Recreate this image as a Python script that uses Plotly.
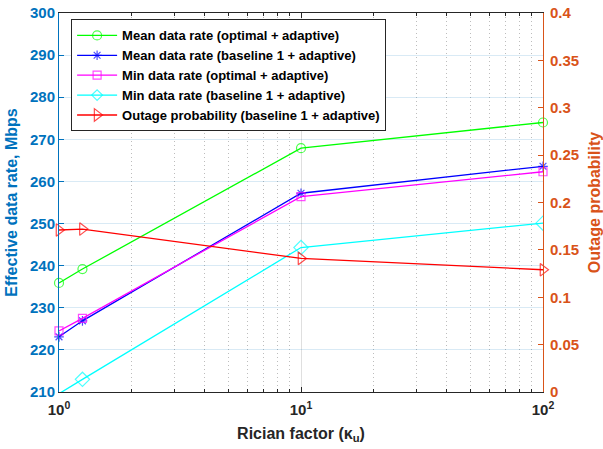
import plotly.graph_objects as go

kappa = [1, 1.25, 10, 100]
mean_opt = [235.9, 239.2, 267.9, 274.0]
mean_base = [223.1, 226.9, 257.2, 263.6]
min_opt = [224.5, 227.5, 256.4, 262.3]
min_base = [209.6, 213.0, 244.3, 250.1]
outage_base = [0.171, 0.172, 0.141, 0.129]

names = [
    "Mean data rate (optimal + adaptive)",
    "Mean data rate (baseline 1 + adaptive)",
    "Min data rate (optimal + adaptive)",
    "Min data rate (baseline 1 + adaptive)",
    "Outage probability (baseline 1 + adaptive)",
]
colors = ["#00FF00", "#0000FF", "#FF00FF", "#00FFFF", "#FF0000"]
symbols = ["circle-open", "asterisk-open", "square-open", "diamond-open", "triangle-right-open"]
sizes = [9, 8, 8, 11, 11]
series = [mean_opt, mean_base, min_opt, min_base, outage_base]

LEFT = "#0072BD"
RIGHT = "#D95319"
FONT = "Liberation Sans, Arial, Helvetica, sans-serif"
Y_RANGE = [210, 300]
Y2_RANGE = [0, 0.4]

fig = go.Figure()
for i, (nm, c, s, sz, ys) in enumerate(zip(names, colors, symbols, sizes, series)):
    rng = Y2_RANGE if i == 4 else Y_RANGE
    inside = [rng[0] <= v <= rng[1] for v in ys]
    # MATLAB hides markers whose centre lies outside the axes
    msz = [sz if ok else 0 for ok in inside]
    fig.add_trace(go.Scatter(
        x=kappa, y=ys, name=nm, mode="lines+markers",
        line=dict(color=c, width=1.3),
        marker=dict(symbol=s, size=msz, color=c, line=dict(color=c, width=1.2)),
        cliponaxis=not all(inside) and True or False,
        yaxis="y2" if i == 4 else "y",
    ))

minor_vals = [2, 3, 4, 5, 6, 7, 8, 9, 20, 30, 40, 50, 60, 70, 80, 90]

fig.update_layout(
    template="none",
    width=603, height=449,
    margin=dict(l=59, r=60, t=13, b=57, autoexpand=False),
    plot_bgcolor="white", paper_bgcolor="white",
    font=dict(family=FONT, size=15, color="#262626", weight="bold"),
    showlegend=True,
    legend=dict(
        x=0.025, y=0.983, xanchor="left", yanchor="top",
        bgcolor="white", bordercolor="#262626", borderwidth=1,
        font=dict(family=FONT, size=13, color="black", weight="bold"),
        tracegroupgap=0, itemwidth=40,
    ),
    xaxis=dict(
        type="log", range=[0, 2], automargin=False,
        tickvals=[1, 10, 100], ticktext=["10<sup>0</sup>", "10<sup>1</sup>", "10<sup>2</sup>"],
        ticks="inside", ticklen=5, tickcolor="#262626", ticklabelstandoff=4,
        showline=True, linecolor="#262626", linewidth=1, mirror="ticks",
        showgrid=True, gridcolor="rgba(38,38,38,0.15)", gridwidth=1,
        zeroline=False,
        tickfont=dict(size=15, color="#262626"),
        title=dict(text="Rician factor (κ<sub>u</sub>)", font=dict(size=16, color="#262626"), standoff=10),
        minor=dict(tickvals=minor_vals, ticks="inside", ticklen=3, tickcolor="#262626",
                   showgrid=True, gridcolor="rgba(38,38,38,0.3)", griddash="1px,3px", gridwidth=1),
    ),
    yaxis=dict(
        range=Y_RANGE, dtick=10, tick0=210, automargin=False,
        ticks="inside", ticklen=5, tickcolor=LEFT,
        showline=True, linecolor=LEFT, linewidth=1,
        showgrid=True, gridcolor="rgba(0,114,189,0.15)", gridwidth=1,
        zeroline=False,
        tickfont=dict(size=15, color=LEFT),
        title=dict(text="Effective data rate, Mbps", font=dict(size=16, color=LEFT), standoff=8),
    ),
    yaxis2=dict(
        overlaying="y", side="right", range=Y2_RANGE, dtick=0.05, tick0=0, automargin=False,
        ticks="inside", ticklen=5, tickcolor=RIGHT, ticklabelstandoff=3,
        showline=True, linecolor=RIGHT, linewidth=1,
        showgrid=False, zeroline=False,
        tickfont=dict(size=15, color=RIGHT),
        title=dict(text="Outage probability", font=dict(size=16, color=RIGHT), standoff=12),
    ),
)

fig.write_html("out.html")
